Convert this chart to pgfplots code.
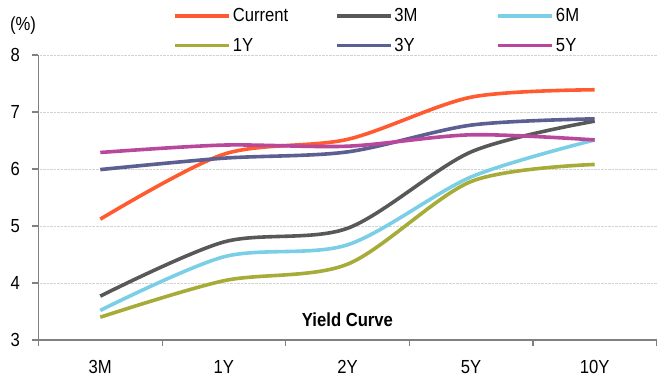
\documentclass[border=0pt]{standalone}
\usepackage{pgfplots}
\pgfplotsset{compat=1.18}
\usepackage{fontspec}
\setmainfont[FakeStretch=0.88]{Liberation Sans}
\definecolor{cCur}{RGB}{255,90,48}
\definecolor{c3M}{RGB}{88,88,88}
\definecolor{c6M}{RGB}{122,207,230}
\definecolor{c1Y}{RGB}{167,171,56}
\definecolor{c3Y}{RGB}{91,95,146}
\definecolor{c5Y}{RGB}{185,71,156}
\definecolor{axgray}{RGB}{128,128,128}
\begin{document}
\begin{tikzpicture}
\useasboundingbox (-38.5bp,-40bp) rectangle (628.5bp,340bp);
\begin{axis}[
  scale only axis,
  width=618bp, height=285bp,
  xmin=-0.5, xmax=4.5,
  ymin=3, ymax=8,
  ytick={3,4,5,6,7,8},
  xtick={0,1,2,3,4},
  xticklabels={3M,1Y,2Y,5Y,10Y},
  minor xtick={-0.5,0.5,1.5,2.5,3.5,4.5},
  axis x line*=bottom,
  axis y line*=left,
  axis line style={axgray, line width=1.6bp, -},
  tick align=outside,
  major tick length=6bp,
  minor tick length=6bp,
  xtick style={draw=none},
  minor x tick style={axgray, line width=1.2bp, draw=axgray},
  ytick style={axgray, line width=1.2bp},
  ymajorgrids,
  grid style={densely dotted, gray!35, line width=0.8bp},
  /pgf/number format/assume math mode=true,
  tick label style={font=\fontsize{19}{21}\selectfont, text=black},
  yticklabel style={xshift=-9bp},
  xticklabel style={yshift=-11bp},
  legend columns=3,
  legend style={at={(0.2128,1.178)}, anchor=north west, draw=none, fill=none,
    font=\fontsize{19}{21}\selectfont,
    nodes={text width=100bp, align=left, inner xsep=2bp, inner ysep=2bp},
    row sep=11bp},
  legend image code/.code={\draw[line width=3.6bp] (0bp,0bp) -- (54bp,0bp);},
  every axis plot/.append style={line width=3.6bp, smooth, tension=0.5},
  clip=false,
]
\addplot[cCur] coordinates {(0,5.12) (1,6.26) (2,6.52) (3,7.26) (4,7.39)};
\addlegendentry{Current}
\addplot[c3M] coordinates {(0,3.77) (1,4.72) (2,4.96) (3,6.30) (4,6.84)};
\addlegendentry{3M}
\addplot[c6M] coordinates {(0,3.52) (1,4.46) (2,4.67) (3,5.86) (4,6.51)};
\addlegendentry{6M}
\addplot[c1Y] coordinates {(0,3.40) (1,4.04) (2,4.33) (3,5.78) (4,6.08)};
\addlegendentry{1Y}
\addplot[c3Y] coordinates {(0,5.99) (1,6.19) (2,6.30) (3,6.77) (4,6.88)};
\addlegendentry{3Y}
\addplot[c5Y] coordinates {(0,6.29) (1,6.42) (2,6.40) (3,6.60) (4,6.51)};
\addlegendentry{5Y}
\node[font=\bfseries\fontsize{19}{21}\selectfont] at (axis cs:2,3.35) {Yield Curve};
\end{axis}
\node[font=\fontsize{19}{21}\selectfont] at (-15.5bp,314bp) {(\%)};
\end{tikzpicture}
\end{document}
